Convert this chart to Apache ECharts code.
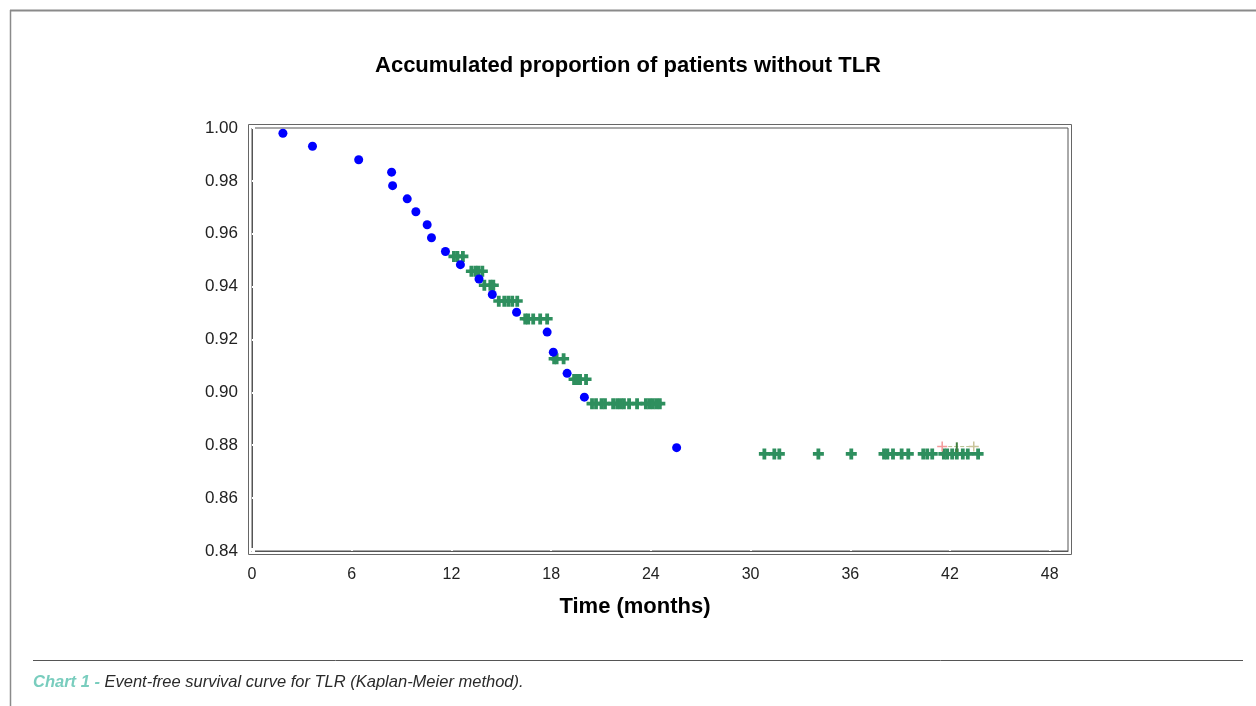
<!DOCTYPE html>
<html><head><meta charset="utf-8">
<script src="https://cdn.jsdelivr.net/npm/echarts@6/dist/echarts.min.js"></script>
<style>html,body{margin:0;padding:0;background:#fff}#c{width:1256px;height:706px}</style>
</head><body><div id="c"></div>
<script>
// Events (blue dots): time in months, survival proportion
const eventTimes = [1.86, 3.64, 6.42, 8.40, 8.46, 9.34, 9.86, 10.54, 10.80, 11.64, 12.54, 13.66, 14.46, 15.92, 17.76, 18.13, 18.96, 20.0, 25.55];
const eventSurv  = [0.998, 0.9931, 0.988, 0.9833, 0.9782, 0.9732, 0.9683, 0.9634, 0.9585, 0.9533, 0.9483, 0.9429, 0.9370, 0.9303, 0.9228, 0.9152, 0.9072, 0.8982, 0.8791];

// Censored observations (green crosses), grouped by survival level
const censorLevels = [0.9514, 0.9458, 0.9405, 0.9345, 0.9278, 0.9127, 0.9049, 0.8957, 0.8767];
const censorTimes = [
  [12.15, 12.36, 12.69],
  [13.20, 13.44, 13.62, 13.86],
  [13.98, 14.34, 14.52],
  [14.85, 15.18, 15.42, 15.66, 15.96],
  [16.44, 16.62, 16.92, 17.34, 17.76],
  [18.18, 18.33, 18.75],
  [19.38, 19.56, 19.74, 20.10],
  [20.46, 20.70, 21.03, 21.24, 21.73, 21.97, 22.18, 22.38, 22.69, 23.17, 23.70, 23.91, 24.12, 24.33, 24.54],
  [30.83, 31.43, 31.73, 34.08, 36.06, 38.03, 38.23, 38.57, 39.09, 39.49, 40.39, 40.63, 40.93, 41.63, 41.83, 42.13, 42.41, 42.77, 43.07, 43.69]
];

// Faint overlay marks near the end of the curve
const overlayLineX = [41.53, 43.43];
const overlayLineY = [0.8795, 0.8795];
const overlayTickX = [42.41, 42.41];
const overlayTickY = [0.8811, 0.8774];

const xTicks = [0, 6, 12, 18, 24, 30, 36, 42, 48];
const yTicks = [0.84, 0.86, 0.88, 0.90, 0.92, 0.94, 0.96, 0.98, 1.00];

const titleText = 'Accumulated proportion of patients without TLR';
const xAxisTitle = 'Time (months)';
const captionLead = 'Chart 1 - ';
const captionText = 'Event-free survival curve for TLR (Kaplan-Meier method).';

const eventData = eventTimes.map((t, i) => [t, eventSurv[i]]);
const censorData = [];
censorTimes.forEach((row, i) => row.forEach(t => censorData.push([t, censorLevels[i]])));

const plus = 'path://M3.6,0h3.8v3.6h3.6v3.6h-3.6v3.8h-3.8v-3.8h-3.6v-3.6h3.6z';
const thinPlus = 'path://M4.25,0h1.5v4.25h4.25v1.5h-4.25v4.25h-1.5v-4.25h-4.25v-1.5h4.25z';

const FONT = 'Liberation Sans, Arial, sans-serif';
const G = {left: 252, top: 128, width: 816, height: 423};

const chart = echarts.init(document.getElementById('c'), null, {renderer: 'canvas'});
chart.setOption({
  backgroundColor: '#ffffff',
  animation: false,
  title: {
    text: titleText, left: 'center', top: 50,
    textStyle: {fontFamily: FONT, fontSize: 22, fontWeight: 'bold', color: '#000'}
  },
  grid: {left: G.left, top: G.top, width: G.width, height: G.height, show: true,
         borderColor: '#555', borderWidth: 1, backgroundColor: '#fff'},
  xAxis: {
    type: 'value', min: 0, max: 49.1, interval: 6,
    name: xAxisTitle, nameLocation: 'middle', nameGap: 45,
    nameTextStyle: {fontFamily: FONT, fontSize: 22, fontWeight: 'bold', color: '#000', padding: [0, 50, 0, 0]},
    axisLine: {show: true, lineStyle: {color: '#555', width: 1}},
    axisTick: {show: true, inside: true, length: 3, lineStyle: {color: '#fff', width: 2}},
    axisLabel: {show: true, margin: 16, fontFamily: FONT, fontSize: 16, color: '#222',
                showMaxLabel: false, formatter: v => xTicks.includes(v) ? String(v) : ''},
    splitLine: {show: false}
  },
  yAxis: {
    type: 'value', min: 0.84, max: 1.0, interval: 0.02,
    axisLine: {show: true, lineStyle: {color: '#555', width: 1}},
    axisTick: {show: true, inside: true, length: 3, lineStyle: {color: '#fff', width: 2}},
    axisLabel: {show: true, margin: 14, fontFamily: FONT, fontSize: 17, color: '#222',
                formatter: v => { const m = yTicks.find(t => Math.abs(t - v) < 1e-6); return m !== undefined ? m.toFixed(2) : ''; },
                padding: [0, 0, 13, 0]},
    splitLine: {show: false}
  },
  series: [
    {type: 'scatter', name: 'censored', data: censorData, symbol: plus, symbolSize: [11, 11],
     itemStyle: {color: '#2E8F5E', opacity: 1}, z: 3},
    {type: 'scatter', name: 'events', data: eventData, symbol: 'circle', symbolSize: 9,
     itemStyle: {color: '#0000FF', opacity: 1}, z: 4},
    {type: 'line', symbol: thinPlus, symbolSize: 10,
     showSymbol: true, lineStyle: {color: '#B7BF90', width: 1, type: [4, 2]},
     itemStyle: {color: '#C9C49A', opacity: 1}, z: 5,
     data: [{value: [overlayLineX[0], overlayLineY[0]], itemStyle: {color: '#F39A9A'}},
            {value: [overlayLineX[1], overlayLineY[1]], itemStyle: {color: '#C9C49A'}}]},
    {type: 'line', data: overlayTickX.map((x, i) => [x, overlayTickY[i]]), symbol: 'none',
     lineStyle: {color: '#3F7F3F', width: 2}, z: 5}
  ],
  graphic: [
    {type: 'rect', silent: true, z: -1,
     shape: {x: G.left - 3.5, y: G.top - 3.5, width: G.width + 7, height: G.height + 7},
     style: {fill: null, stroke: '#666', lineWidth: 1}},
    {type: 'line', silent: true, shape: {x1: 10, y1: 10.5, x2: 1256, y2: 10.5}, style: {stroke: '#8a8a8a', lineWidth: 2}},
    {type: 'line', silent: true, shape: {x1: 10.5, y1: 10, x2: 10.5, y2: 706}, style: {stroke: '#8a8a8a', lineWidth: 1.5}},
    {type: 'line', silent: true, shape: {x1: 33, y1: 660.5, x2: 1243, y2: 660.5}, style: {stroke: '#555', lineWidth: 1}},
    {type: 'text', silent: true, left: 33, top: 674,
     style: {text: '{a|' + captionLead + '}{b|' + captionText + '}',
             rich: {
               a: {fontFamily: FONT, fontSize: 16.5, fontStyle: 'italic', fontWeight: 'bold', fill: '#79CDBE'},
               b: {fontFamily: FONT, fontSize: 16.5, fontStyle: 'italic', fill: '#2a2a2a'}
             }}}
  ]
});
</script></body></html>
